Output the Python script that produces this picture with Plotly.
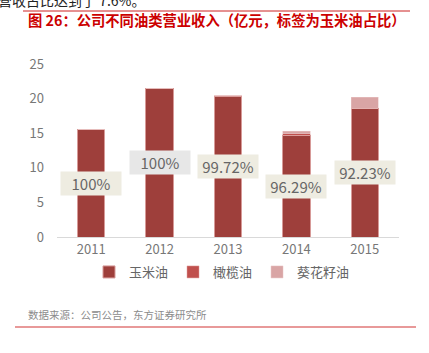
import plotly.graph_objects as go

years = ["2011", "2012", "2013", "2014", "2015"]
corn = [15.6, 21.5, 20.34, 14.73, 18.63]
olive = [0, 0, 0.06, 0.2, 0]
sunflower = [0, 0, 0, 0.37, 1.57]
labels = ["100%", "100%", "99.72%", "96.29%", "92.23%"]
label_bg = ["#EEECE1", "#E7E7E7", "#EEECE1", "#EEECE1", "#EEECE1"]

FONT = "Noto Sans CJK SC"
L, R, T, B = 57, 399, 64, 237
W, H = 429, 353

def px(x):
    return (x - L) / (R - L)

def py(y):
    return (B - y) / (B - T)

fig = go.Figure()
fig.add_bar(x=years, y=corn, name="玉米油", marker=dict(color="#9E3F3B", line=dict(color="#D79A98", width=1)))
fig.add_bar(x=years, y=olive, name="橄榄油", marker=dict(color="#C0504D", line=dict(color="#E0A09E", width=0.5)))
fig.add_bar(x=years, y=sunflower, name="葵花籽油", marker=dict(color="#D9A5A5", line=dict(color="#EAC6C6", width=0.5)))

annotations = []
for i, (c, lab, bg) in enumerate(zip(corn, labels, label_bg)):
    annotations.append(dict(x=i, y=c / 2, xref="x", yref="y", text=lab, showarrow=False,
                            font=dict(family=FONT, size=15, color="#666666"),
                            bgcolor=bg, width=58, height=21, borderpad=1))

annotations.append(dict(x=px(26), y=py(19), xref="paper", yref="paper", xanchor="left", yanchor="middle",
                        text="<b>图 26：公司不同油类营业收入（亿元，标签为玉米油占比）</b>", showarrow=False,
                        font=dict(family=FONT, size=14.3, color="#CC0000")))
annotations.append(dict(x=px(-4), y=py(0), xref="paper", yref="paper", xanchor="left", yanchor="middle",
                        text="营收占比达到了 7.6%。", showarrow=False,
                        font=dict(family=FONT, size=14, color="#222222")))
annotations.append(dict(x=px(26), y=py(314), xref="paper", yref="paper", xanchor="left", yanchor="middle",
                        text="数据来源：公司公告，东方证券研究所", showarrow=False,
                        font=dict(family=FONT, size=10.5, color="#8C8C8C")))

shapes = [
    dict(type="line", xref="paper", yref="paper", x0=px(23), x1=px(410), y0=py(11), y1=py(11),
         line=dict(color="#CC2222", width=1)),
    dict(type="line", xref="paper", yref="paper", x0=px(15), x1=px(416), y0=py(327), y1=py(327),
         line=dict(color="#E07777", width=1.5)),
]

fig.update_layout(
    width=W, height=H,
    margin=dict(l=L, r=W - R, t=T, b=H - B),
    barmode="stack", bargap=0.6,
    plot_bgcolor="white", paper_bgcolor="white",
    font=dict(family=FONT, color="#666666"),
    showlegend=True,
    legend=dict(orientation="h", x=px(222), xanchor="center", y=py(272), yanchor="middle",
                font=dict(family=FONT, size=13, color="#666666"), itemwidth=30,
                traceorder="normal", itemclick=False, tracegroupgap=0),
    annotations=annotations, shapes=shapes,
)
fig.update_yaxes(range=[0, 25], dtick=5, showgrid=False, zeroline=False, showline=False,
                 tickfont=dict(family=FONT, size=13, color="#777777"), ticks="", ticklabelstandoff=12)
fig.update_xaxes(type="category", range=[-0.5, 4.5], showline=True, linecolor="#D9D9D9", linewidth=1, ticks="",
                 tickfont=dict(family=FONT, size=13, color="#777777"))

fig.write_html("out.html")
